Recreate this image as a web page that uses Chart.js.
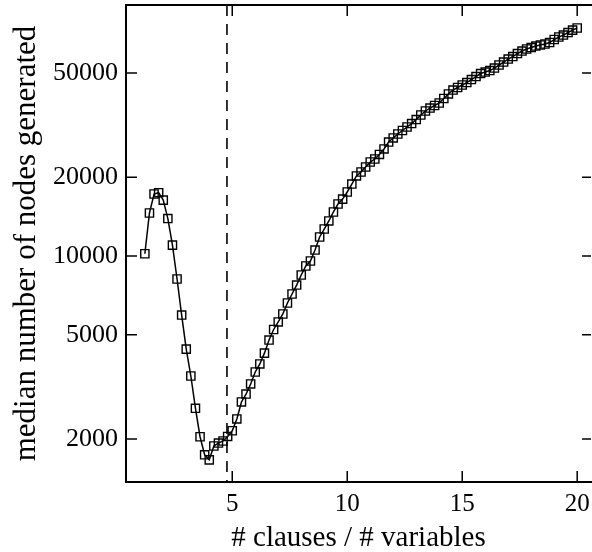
<!DOCTYPE html>
<html>
<head>
<meta charset="utf-8">
<script src="https://cdn.jsdelivr.net/npm/chart.js@4/dist/chart.umd.min.js"></script>
<style>
  html, body { margin: 0; padding: 0; background: #fff; overflow: hidden; }
  #wrap { width: 592px; height: 552px; }
</style>
</head>
<body>
<div id="wrap"><canvas id="c" width="592" height="552"></canvas></div>
<script>
// Clause-to-variable ratio of each sample
const clauseRatio = [
  1.2, 1.4, 1.6, 1.8, 2.0, 2.2, 2.4, 2.6, 2.8, 3.0,
  3.2, 3.4, 3.6, 3.8, 4.0, 4.2, 4.4, 4.6, 4.8, 5.0,
  5.2, 5.4, 5.6, 5.8, 6.0, 6.2, 6.4, 6.6, 6.8, 7.0,
  7.2, 7.4, 7.6, 7.8, 8.0, 8.2, 8.4, 8.6, 8.8, 9.0,
  9.2, 9.4, 9.6, 9.8, 10.0, 10.2, 10.4, 10.6, 10.8, 11.0,
  11.2, 11.4, 11.6, 11.8, 12.0, 12.2, 12.4, 12.6, 12.8, 13.0,
  13.2, 13.4, 13.6, 13.8, 14.0, 14.2, 14.4, 14.6, 14.8, 15.0,
  15.2, 15.4, 15.6, 15.8, 16.0, 16.2, 16.4, 16.6, 16.8, 17.0,
  17.2, 17.4, 17.6, 17.8, 18.0, 18.2, 18.4, 18.6, 18.8, 19.0,
  19.2, 19.4, 19.6, 19.8, 20.0
];

// Median number of search nodes generated at each ratio
const medianNodes = [
  10200, 14600, 17250, 17450, 16350, 13900, 11000, 8170, 5950, 4410,
  3480, 2620, 2040, 1740, 1665, 1880, 1930, 1965, 2045, 2150,
  2385, 2770, 2970, 3245, 3605, 3870, 4255, 4775, 5240, 5600,
  6005, 6615, 7160, 7745, 8460, 9160, 9570, 10540, 11820, 12680,
  13610, 14730, 15800, 16500, 17560, 18830, 20220, 20940, 21880, 22860,
  23470, 24430, 25640, 27250, 28250, 29250, 30160, 31100, 32060, 33210,
  34560, 35810, 36750, 37580, 38410, 39960, 41590, 43050, 44020, 45000,
  45990, 47220, 48480, 49780, 50440, 51110, 52240, 53650, 55080, 56550,
  57800, 59350, 60670, 61760, 62570, 63390, 63970, 64560, 65390, 67140,
  68630, 69820, 71400, 72950, 74300
];

const xTickValues = [5, 10, 15, 20];
const yTickValues = [2000, 5000, 10000, 20000, 50000];

// Vertical dashed marker on the ratio axis
const thresholdRatio = 4.77;

const FONT = '"Liberation Serif", "DejaVu Serif", serif';
const TICK_LEN = 11;

const points = clauseRatio.map((r, i) => ({ x: r, y: medianNodes[i] }));

// Fixed axis box sizes, without extra room for overhanging labels
function fixBox(s, prop, size) {
  s[prop] = size;
  s.paddingTop = 0;
  s.paddingBottom = 0;
  s.paddingLeft = 0;
  s.paddingRight = 0;
}

// Closed-in frame with inward tick marks and the dashed marker
const framePlugin = {
  id: 'frame',
  beforeDatasetsDraw(chart) {
    const { ctx, chartArea: { top, bottom }, scales: { x } } = chart;
    const tx = x.getPixelForValue(thresholdRatio);
    ctx.save();
    ctx.strokeStyle = '#000';
    ctx.lineWidth = 1.6;
    ctx.setLineDash([11, 8]);
    ctx.beginPath();
    ctx.moveTo(tx, top);
    ctx.lineTo(tx, bottom);
    ctx.stroke();
    ctx.restore();
  },
  afterDatasetsDraw(chart) {
    const { ctx, chartArea: { left, right, top, bottom }, scales: { x, y } } = chart;
    ctx.save();
    ctx.strokeStyle = '#000';
    ctx.lineWidth = 2;
    ctx.beginPath();
    ctx.moveTo(right + 2, top);
    ctx.lineTo(left, top);
    ctx.lineTo(left, bottom);
    ctx.lineTo(right + 2, bottom);
    ctx.stroke();

    ctx.lineWidth = 1.5;
    ctx.beginPath();
    xTickValues.forEach(v => {
      const px = x.getPixelForValue(v);
      ctx.moveTo(px, bottom);
      ctx.lineTo(px, bottom - TICK_LEN);
      ctx.moveTo(px, top);
      ctx.lineTo(px, top + TICK_LEN);
    });
    yTickValues.forEach(v => {
      const py = y.getPixelForValue(v);
      ctx.moveTo(left, py);
      ctx.lineTo(left + TICK_LEN, py);
      ctx.moveTo(right, py);
      ctx.lineTo(right - 9, py);
    });
    ctx.stroke();
    ctx.restore();
  }
};

new Chart(document.getElementById('c'), {
  type: 'line',
  data: {
    datasets: [{
      data: points,
      borderColor: '#000',
      borderWidth: 1.5,
      tension: 0,
      pointStyle: 'rect',
      pointRadius: 5.8,
      pointBorderWidth: 1.4,
      pointBorderColor: '#000',
      pointBackgroundColor: 'rgba(255,255,255,0)',
      fill: false
    }]
  },
  options: {
    responsive: false,
    animation: false,
    devicePixelRatio: 1,
    layout: { autoPadding: false, padding: { top: 5, right: 1, left: 0, bottom: 0 } },
    plugins: {
      legend: { display: false },
      tooltip: { enabled: false }
    },
    scales: {
      x: {
        type: 'linear',
        min: 0.38,
        max: 20.6,
        grid: { display: false, drawTicks: false },
        border: { display: false },
        afterBuildTicks: s => { s.ticks = xTickValues.map(v => ({ value: v })); },
        afterFit: s => fixBox(s, 'height', 70),
        ticks: {
          autoSkip: false,
          maxRotation: 0,
          padding: 7,
          color: '#000',
          font: { family: FONT, size: 25 },
          callback: v => String(v)
        },
        title: {
          display: true,
          text: '# clauses / # variables',
          color: '#000',
          font: { family: FONT, size: 29 },
          padding: { top: 0, bottom: -4 }
        }
      },
      y: {
        type: 'logarithmic',
        min: 1370,
        max: 90960,
        grid: { display: false, drawTicks: false },
        border: { display: false },
        afterBuildTicks: s => { s.ticks = yTickValues.map(v => ({ value: v })); },
        afterFit: s => fixBox(s, 'width', 126),
        ticks: {
          autoSkip: false,
          padding: 8,
          color: '#000',
          font: { family: FONT, size: 26 },
          callback: v => String(v)
        },
        title: {
          display: true,
          text: 'median number of nodes generated',
          color: '#000',
          font: { family: FONT, size: 31 },
          padding: { top: 8, bottom: 0 }
        }
      }
    }
  },
  plugins: [framePlugin]
});
</script>
</body>
</html>
